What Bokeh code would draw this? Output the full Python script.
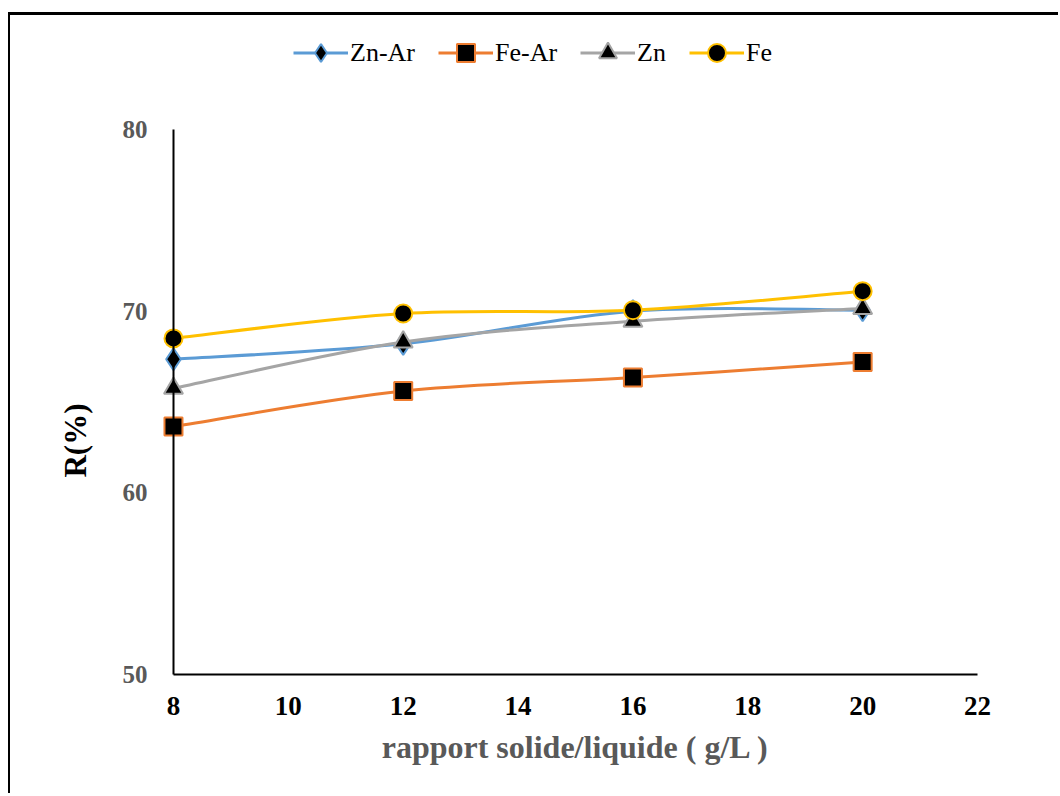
from bokeh.plotting import figure
from bokeh.models import FixedTicker, Legend, LegendItem, Label, ColumnDataSource
from bokeh.embed import file_html
from bokeh.resources import INLINE

# Ratio solide/liquide (g/L) and recovery R(%) for each series
ratio = [8, 12, 16, 20]
zn_ar = [67.35, 68.2, 70.0, 70.05]
fe_ar = [63.65, 65.6, 66.35, 67.2]
zn = [65.75, 68.3, 69.45, 70.15]
fe = [68.5, 69.87, 70.05, 71.1]

x_ticks = [8, 10, 12, 14, 16, 18, 20, 22]
y_ticks = [50, 60, 70, 80]

series = [
    ("Zn-Ar", zn_ar, "#5B9BD5", "diamond", 22),
    ("Fe-Ar", fe_ar, "#ED7D31", "square", 18),
    ("Zn", zn, "#A5A5A5", "triangle", 19),
    ("Fe", fe, "#FFC000", "circle", 18),
]

SERIF = "Liberation Serif"


def smooth_segments(xs, ys):
    """Cubic Bezier segments (Catmull-Rom style) through the data points."""
    n = len(xs)
    out = dict(x0=[], y0=[], x1=[], y1=[], cx0=[], cy0=[], cx1=[], cy1=[])
    for i in range(n - 1):
        ip = max(i - 1, 0)
        inx = min(i + 2, n - 1)
        out["x0"].append(xs[i]); out["y0"].append(ys[i])
        out["x1"].append(xs[i + 1]); out["y1"].append(ys[i + 1])
        out["cx0"].append(xs[i] + (xs[i + 1] - xs[ip]) / 6)
        out["cy0"].append(ys[i] + (ys[i + 1] - ys[ip]) / 6)
        out["cx1"].append(xs[i + 1] - (xs[inx] - xs[i]) / 6)
        out["cy1"].append(ys[i + 1] - (ys[inx] - ys[i]) / 6)
    return out


# The plot frame covers the whole canvas; the axes sit at fixed positions
# inside it and are limited to the data extent with `bounds`.
p = figure(
    width=1050, height=781,
    x_range=(5.162, 23.445), y_range=(43.284, 86.275),
    output_backend="svg", toolbar_location=None,
    min_border=0,
    margin=(12, 0, 0, 8),
    styles={"border-left": "2px solid black", "border-top": "3px solid black"},
)
p.outline_line_color = None
p.grid.visible = False
p.background_fill_color = "white"
p.border_fill_color = "white"

# axes
p.xaxis.ticker = FixedTicker(ticks=x_ticks)
p.yaxis.ticker = FixedTicker(ticks=y_ticks)
p.xaxis.fixed_location = 50
p.yaxis.fixed_location = 8
p.xaxis.bounds = (8, 22)
p.yaxis.bounds = (50, 80)
for ax in (p.xaxis, p.yaxis):
    ax.axis_line_color = "black"
    ax.axis_line_width = 2
    ax.major_tick_line_color = None
    ax.minor_tick_line_color = None
    ax.major_label_text_font = SERIF
    ax.major_label_text_font_style = "bold"
p.xaxis.major_label_text_font_size = "27px"
p.xaxis.major_label_text_color = "black"
p.xaxis.major_label_standoff = 17
p.yaxis.major_label_text_font_size = "25px"
p.yaxis.major_label_text_color = "#595959"
p.yaxis.major_label_standoff = 20

p.xaxis.axis_label = "rapport solide/liquide ( g/L )"
p.xaxis.axis_label_text_font = SERIF
p.xaxis.axis_label_text_font_style = "bold"
p.xaxis.axis_label_text_font_size = "32px"
p.xaxis.axis_label_text_color = "#595959"
p.xaxis.axis_label_standoff = 10

ylab = Label(x=6.29, y=62.88, text="R(%)", angle=1.5708,
             text_font=SERIF, text_font_style="bold", text_font_size="31px",
             text_color="black", text_align="center", text_baseline="middle")
p.add_layout(ylab)

items = []
for name, vals, color, marker, size in series:
    seg = ColumnDataSource(smooth_segments(ratio, vals))
    line_r = p.bezier(x0="x0", y0="y0", x1="x1", y1="y1",
                      cx0="cx0", cy0="cy0", cx1="cx1", cy1="cy1",
                      source=seg, line_color=color, line_width=3)
    pts = p.scatter(ratio, vals, marker=marker, size=size,
                    fill_color="black", line_color=color, line_width=2)
    items.append(LegendItem(label=name, renderers=[line_r, pts]))

legend = Legend(items=items, orientation="horizontal", location=(283, 721),
                glyph_width=55, glyph_height=45, label_standoff=2, spacing=23,
                padding=0, margin=0, border_line_color=None,
                background_fill_alpha=0,
                label_text_font=SERIF, label_text_font_size="26px",
                label_text_color="black")
p.add_layout(legend, "center")

open("out.html", "w").write(file_html(p, INLINE))
